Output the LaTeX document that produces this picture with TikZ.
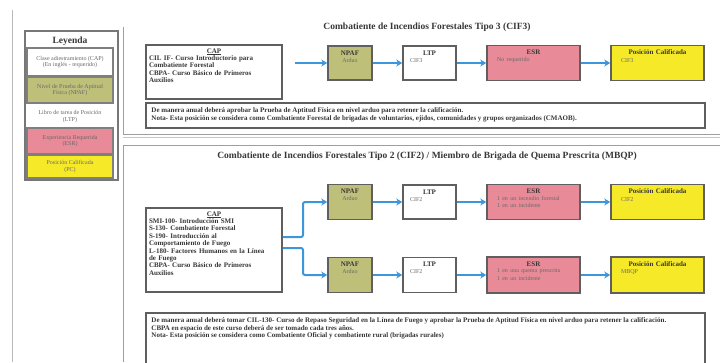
\documentclass[tikz,border=0pt]{standalone}
\usepackage{fontspec}
\setmainfont{Liberation Serif}
\usetikzlibrary{arrows.meta}
\definecolor{npafg}{RGB}{190,192,122}
\definecolor{esrp}{RGB}{232,138,152}
\definecolor{pcy}{RGB}{246,234,40}
\definecolor{bord}{RGB}{95,95,95}
\definecolor{arrb}{RGB}{60,150,220}
\definecolor{txt}{RGB}{55,55,55}
\definecolor{ltxt}{RGB}{105,105,105}
\newcommand\subtx{\fontsize{6}{6.8}\selectfont\mdseries\color{ltxt}}
\newcommand\hdr[1]{\makebox[\linewidth]{#1}}
\begin{document}
\begin{tikzpicture}[x=1pt,y=-1pt,
  box/.style={draw=bord,line width=1.5pt,inner sep=0pt,fill=white},
  litem/.style={draw=bord!80,line width=1.5pt,inner sep=0pt,minimum width=86pt,
    text=ltxt,font=\fontsize{6}{6.8}\selectfont,align=center},
  bt/.style={text=txt,font=\fontsize{7}{7.4}\selectfont\bfseries,inner sep=0pt,align=left,anchor=north},
  nt/.style={text=txt,font=\fontsize{7}{7.8}\selectfont\bfseries,inner sep=0pt,align=left,anchor=north west},
  ttl/.style={text=txt,font=\fontsize{9.5}{10}\selectfont\bfseries,inner sep=0pt},
  arr/.style={draw=arrb,line width=2pt,-{Stealth[length=6pt,width=7pt]}},
  panel/.style={draw=gray!75,line width=1pt}
]
\useasboundingbox (0,0) rectangle (720,362);
\clip (0,0) rectangle (720,362);

% left margin line
\draw[gray!55,line width=0.7pt] (12,10) -- (12,362);

% ---------- legend ----------
\node[box,draw=bord!85,line width=2pt,minimum width=93pt,minimum height=149pt] (leg) at (71.5,105.5) {};
\node[text=txt,font=\fontsize{9.5}{9.5}\selectfont\bfseries,inner sep=0pt] (legt) at (70,41) {Leyenda};
\node[litem,fill=white,minimum height=28pt] (l1) at (70,62) {Clase adiestramiento (CAP)\\(En inglés - requerido)};
\node[litem,fill=npafg,minimum height=26pt] (l2) at (70,90) {Nivel de Prueba de Aptitud\\Física (NPAF)};
\node[litem,fill=white,draw=none,minimum height=23pt] (l3) at (70,116.5) {Libro de tarea de Posición\\(LTP)};
\node[litem,fill=esrp,minimum height=26pt] (l4) at (70,141) {Experiencia Requerida\\(ESR)};
\node[litem,fill=pcy,minimum height=23pt] (l5) at (70,166.5) {Posición Calificada\\(PC)};

% ---------- panels ----------
\draw[panel] (123,27) -- (123,134) -- (720,134);
\draw[gray!45,line width=0.6pt] (123,137) -- (720,137);
\draw[panel] (720,145) -- (123,145) -- (123,362);

% ---------- section 1 ----------
\node[ttl] (title1) at (427,27) {Combatiente de Incendios Forestales Tipo 3 (CIF3)};

\node[box,minimum width=136pt,minimum height=54pt] (cap1) at (214,72) {};
\node[bt,text width=130pt] (cap1t) at ([yshift=-4pt]cap1.north) {\hdr{\underline{CAP}}\\
CIL IF- Curso Introductorio para\\
Combatiente Forestal\\
CBPA- Curso Básico de Primeros\\
Auxilios};

\node[box,fill=npafg,minimum width=44pt,minimum height=34pt] (npaf1) at (350,63) {};
\node[bt,text width=42pt,align=center] (npaf1t) at ([yshift=-5pt]npaf1.north) {NPAF\\{\subtx Arduo}};

\node[box,minimum width=53pt,minimum height=34pt] (ltp1) at (429.5,63) {};
\node[bt,text width=39pt] (ltp1t) at ([yshift=-5pt]ltp1.north) {\hdr{LTP}\\{\subtx CIF3}};

\node[box,fill=esrp,minimum width=93pt,minimum height=35pt] (esr1) at (533.5,63) {};
\node[bt,text width=73pt] (esr1t) at ([yshift=-5pt]esr1.north) {\hdr{ESR}\\{\subtx No requerido}};

\node[box,fill=pcy,minimum width=93pt,minimum height=35pt] (pc1) at (657.5,63) {};
\node[bt,text width=73pt] (pc1t) at ([yshift=-5pt]pc1.north) {\hdr{Posición Calificada}\\{\subtx CIF3}};

\coordinate (a0) at (295,63);
\draw[arr] (a0) -- (npaf1);
\draw[arr] (npaf1) -- (ltp1);
\draw[arr] (ltp1) -- (esr1);
\draw[arr] (esr1) -- (pc1);

\node[box,minimum width=559pt,minimum height=25pt] (note1) at (425.5,115.5) {};
\node[nt] (note1t) at ([xshift=6pt,yshift=-5pt]note1.north west) {De manera anual deberá aprobar la Prueba de Aptitud Física en nivel arduo para retener la calificación.\\
Nota- Esta posición se considera como Combatiente Forestal de brigadas de voluntarios, ejidos, comunidades y grupos organizados (CMAOB).};

% ---------- section 2 ----------
\node[ttl] (title2) at (427,156) {Combatiente de Incendios Forestales Tipo 2 (CIF2) / Miembro de Brigada de Quema Prescrita (MBQP)};

\node[box,minimum width=136pt,minimum height=84pt] (cap2) at (214,250) {};
\node[bt,text width=130pt] (cap2t) at ([yshift=-4pt]cap2.north) {\hdr{\underline{CAP}}\\
SMI-100- Introducción SMI\\
S-130- Combatiente Forestal\\
S-190- Introducción al\\
Comportamiento de Fuego\\
L-180- Factores Humanos en la Línea\\
de Fuego\\
CBPA- Curso Básico de Primeros\\
Auxilios};

\node[box,fill=npafg,minimum width=44pt,minimum height=35pt] (npaf2) at (350,202) {};
\node[bt,text width=42pt,align=center] (npaf2t) at ([yshift=-5pt]npaf2.north) {NPAF\\{\subtx Arduo}};
\node[box,fill=npafg,minimum width=44pt,minimum height=35pt] (npaf3) at (350,275) {};
\node[bt,text width=42pt,align=center] (npaf3t) at ([yshift=-5pt]npaf3.north) {NPAF\\{\subtx Arduo}};

\node[box,minimum width=53pt,minimum height=34pt] (ltp2) at (429.5,202) {};
\node[bt,text width=39pt] (ltp2t) at ([yshift=-5pt]ltp2.north) {\hdr{LTP}\\{\subtx CIF2}};
\node[box,minimum width=53pt,minimum height=35pt] (ltp3) at (429.5,275) {};
\node[bt,text width=39pt] (ltp3t) at ([yshift=-5pt]ltp3.north) {\hdr{LTP}\\{\subtx CIF2}};

\node[box,fill=esrp,minimum width=93pt,minimum height=35pt] (esr2) at (533.5,202) {};
\node[bt,text width=73pt] (esr2t) at ([yshift=-5pt]esr2.north) {\hdr{ESR}\\{\subtx 1 en un incendio forestal\\1 en un incidente}};
\node[box,fill=esrp,minimum width=93pt,minimum height=36pt] (esr3) at (533.5,275) {};
\node[bt,text width=73pt] (esr3t) at ([yshift=-5pt]esr3.north) {\hdr{ESR}\\{\subtx 1 en una quema prescrita\\1 en un incidente}};

\node[box,fill=pcy,minimum width=93pt,minimum height=35pt] (pc2) at (657.5,202) {};
\node[bt,text width=73pt] (pc2t) at ([yshift=-5pt]pc2.north) {\hdr{Posición Calificada}\\{\subtx CIF2}};
\node[box,fill=pcy,minimum width=93pt,minimum height=36pt] (pc3) at (657.5,275) {};
\node[bt,text width=73pt] (pc3t) at ([yshift=-5pt]pc3.north) {\hdr{Posición Calificada}\\{\subtx MBQP}};

\coordinate (j1) at (303,237);
\coordinate (j2) at (303,248);
\draw[arr,rounded corners=2pt] (cap2.east |- j1) -- (j1) |- (npaf2);
\draw[arr,rounded corners=2pt] (cap2.east |- j2) -- (j2) |- (npaf3);
\draw[arr] (npaf2) -- (ltp2);
\draw[arr] (ltp2) -- (esr2);
\draw[arr] (esr2) -- (pc2);
\draw[arr] (npaf3) -- (ltp3);
\draw[arr] (ltp3) -- (esr3);
\draw[arr] (esr3) -- (pc3);

\node[box,minimum width=559pt,minimum height=52pt] (note2) at (425.5,339) {};
\node[nt] (note2t) at ([xshift=6pt,yshift=-5pt]note2.north west) {De manera anual deberá tomar CIL-130- Curso de Repaso Seguridad en la Línea de Fuego y aprobar la Prueba de Aptitud Física en nivel arduo para retener la calificación.\\
CBPA en espacio de este curso deberá de ser tomado cada tres años.\\
Nota- Esta posición se considera como Combatiente Oficial y combatiente rural (brigadas rurales)};
\end{tikzpicture}
\end{document}
